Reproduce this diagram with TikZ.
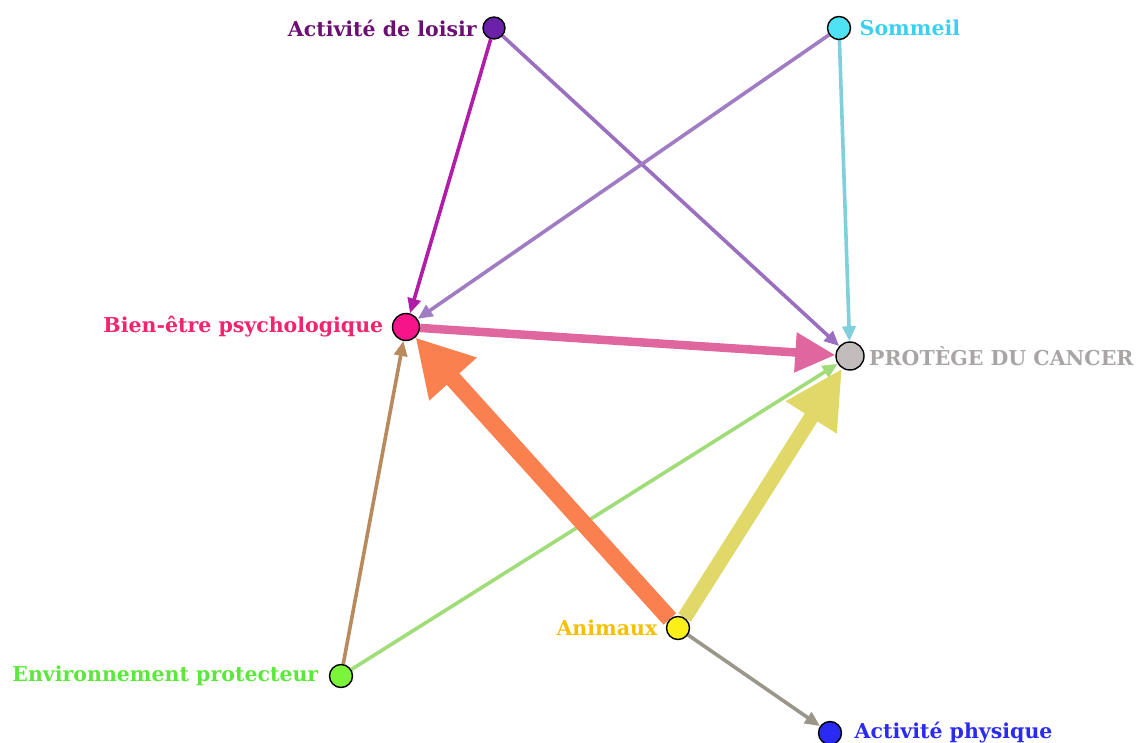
\documentclass[tikz,border=0pt]{standalone}
\usepackage{fontspec}
\setmainfont{DejaVu Serif}
\usetikzlibrary{arrows.meta}
\pgfdeclarelayer{background}
\pgfsetlayers{background,main}
\definecolor{cLoisir}{HTML}{6B21A8}
\definecolor{tLoisir}{HTML}{6B0F72}
\definecolor{cSommeil}{HTML}{4DE3F5}
\definecolor{tSommeil}{HTML}{3AD0F0}
\definecolor{cBien}{HTML}{F5148A}
\definecolor{tBien}{HTML}{F0256E}
\definecolor{cCancer}{HTML}{C2BCBC}
\definecolor{tCancer}{HTML}{A9A5A5}
\definecolor{cAnim}{HTML}{F8F018}
\definecolor{tAnim}{HTML}{F5C000}
\definecolor{cEnv}{HTML}{7AF53A}
\definecolor{tEnv}{HTML}{5CE83A}
\definecolor{cPhys}{HTML}{2A2AF5}
\definecolor{tPhys}{HTML}{2A2AF0}
\definecolor{eLB}{HTML}{B01EA8}
\definecolor{eLC}{HTML}{9B6FBF}
\definecolor{eSB}{HTML}{A07CC4}
\definecolor{eSC}{HTML}{80D0DC}
\definecolor{eBC}{HTML}{E066A0}
\definecolor{eAB}{HTML}{FB8050}
\definecolor{eAC}{HTML}{E0D868}
\definecolor{eEB}{HTML}{B88A5E}
\definecolor{eEC}{HTML}{A0DC78}
\definecolor{eAP}{HTML}{9A968A}
\tikzset{
  vert/.style={circle,draw=black,line width=1.4pt,inner sep=0pt,minimum size=#1},
  lab/.style={font=\fontsize{20.5}{20.5}\selectfont\bfseries},
  thinedge/.style={line width=3.6pt,-{Triangle[length=15pt,width=13pt]}},
}
\begin{document}
\begin{tikzpicture}[x=1pt,y=-1pt]
\useasboundingbox (0,0) rectangle (1148,743);
\node[vert=22pt,fill=cLoisir,label={[lab,text=tLoisir,label distance=2pt]left:Activité de loisir}] (loisir) at (494,28) {};
\node[vert=23pt,fill=cSommeil,label={[lab,text=tSommeil,label distance=5pt]right:Sommeil}] (sommeil) at (839,28) {};
\node[vert=27pt,fill=cBien,label={[lab,text=tBien,label distance=5pt]left:Bien-être psychologique}] (bien) at (406,327) {};
\node[vert=28pt,fill=cCancer,label={[lab,text=tCancer,label distance=1pt]right:PROTÈGE DU CANCER}] (cancer) at (850,356) {};
\node[vert=23pt,fill=cAnim,label={[lab,text=tAnim,label distance=5pt]left:Animaux}] (anim) at (678,628) {};
\node[vert=23pt,fill=cEnv,label={[lab,text=tEnv,label distance=7pt]left:Environnement protecteur}] (env) at (341,676) {};
\node[vert=23pt,fill=cPhys,label={[lab,text=tPhys,label distance=9pt]right:Activité physique}] (phys) at (830,733) {};
\begin{pgfonlayer}{background}
\draw[thinedge,eLB] (loisir) -- (bien);
\draw[thinedge,eLC] (loisir) -- (cancer);
\draw[thinedge,eSB] (sommeil) -- (bien);
\draw[thinedge,eSC] (sommeil) -- (cancer);
\draw[thinedge,eEB] (env) -- (bien);
\draw[thinedge,eEC] (env) -- (cancer);
\draw[thinedge,eAP] (anim) -- (phys);
\draw[eBC,line width=8.5pt,-{Triangle[length=40pt,width=38pt]}] (bien) -- (cancer);
\draw[eAC,line width=15pt,-{Triangle[length=58pt,width=56pt]}] (anim) -- (cancer);
\draw[eAB,line width=17pt,-{Triangle[length=56pt,width=60pt]}] (anim) -- (bien);
\end{pgfonlayer}
\end{tikzpicture}
\end{document}
